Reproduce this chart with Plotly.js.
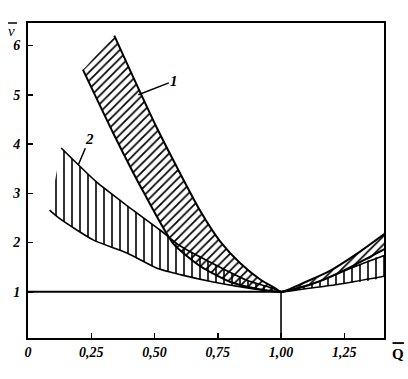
<!DOCTYPE html>
<html><head><meta charset="utf-8">
<script src="https://cdn.plot.ly/plotly-3.0.1.min.js"></script>
<style>html,body{margin:0;padding:0;background:#fff}</style>
</head><body><div id="chart" style="width:408px;height:379px"></div>
<script>
// ticks
const xTickVals = [0, 0.25, 0.5, 0.75, 1.0, 1.25];
const xTickText = ['0', '0,25', '0,50', '0,75', '1,00', '1,25'];
const yTickVals = [1, 2, 3, 4, 5, 6];
const yTickText = ['1', '2', '3', '4', '5', '6'];

// band 1 (diagonal hatching)
const band1LeftUpperX = [0.341, 0.511, 0.681, 0.760, 0.839, 0.918, 0.978, 1.0];
const band1LeftUpperY = [6.20, 4.31, 2.64, 2.02, 1.58, 1.25, 1.07, 1.0];
const band1LeftLowerX = [0.217, 0.337, 0.455, 0.574, 0.681, 0.800, 0.918, 1.0];
const band1LeftLowerY = [5.51, 4.22, 3.04, 1.98, 1.52, 1.20, 1.05, 1.0];
const band1RightUpperX = [1.0, 1.097, 1.195, 1.302, 1.41];
const band1RightUpperY = [1.0, 1.20, 1.43, 1.78, 2.18];
const band1RightLowerX = [1.0, 1.117, 1.235, 1.41];
const band1RightLowerY = [1.0, 1.15, 1.40, 1.87];

// band 2 (vertical hatching)
const band2LeftUpperX = [0.131, 0.273, 0.391, 0.523, 0.602, 0.732, 0.867, 0.969, 1.0];
const band2LeftUpperY = [3.92, 3.22, 2.75, 2.25, 1.93, 1.57, 1.23, 1.07, 1.0];
const band2LeftLowerX = [0.085, 0.127, 0.259, 0.391, 0.510, 0.602, 0.732, 0.867, 1.0];
const band2LeftLowerY = [2.66, 2.48, 2.05, 1.79, 1.48, 1.35, 1.20, 1.08, 1.0];
const band2RightUpperX = [1.0, 1.156, 1.275, 1.41];
const band2RightUpperY = [1.0, 1.22, 1.48, 1.74];
const band2RightLowerX = [1.0, 1.077, 1.223, 1.41];
const band2RightLowerY = [1.0, 1.05, 1.15, 1.32];

// reference lines
const refHX = [0, 1.0];
const refHY = [1, 1];

const xRange = [0, 1.407];
const yRange = [0.063, 6.457];

function join(a, b) { return a.concat(b.slice(1)); }
function polygon(lux, luy, llx, lly, rux, ruy, rlx, rly) {
  const lowX = join(llx, rlx), lowY = join(lly, rly);
  const upX = join(lux, rux), upY = join(luy, ruy);
  return {
    x: lowX.concat(upX.slice().reverse()),
    y: lowY.concat(upY.slice().reverse())
  };
}

const p1 = polygon(band1LeftUpperX, band1LeftUpperY, band1LeftLowerX, band1LeftLowerY,
                   band1RightUpperX, band1RightUpperY, band1RightLowerX, band1RightLowerY);
const p2 = polygon(band2LeftUpperX, band2LeftUpperY, band2LeftLowerX, band2LeftLowerY,
                   band2RightUpperX, band2RightUpperY, band2RightLowerX, band2RightLowerY);

const lineStyle = (w) => ({color: 'black', width: w, shape: 'spline', smoothing: 0.6});

const traces = [
  {x: p2.x, y: p2.y, mode: 'lines', fill: 'toself', fillcolor: 'rgba(255,255,255,0)',
   line: {width: 0, shape: 'spline', smoothing: 0.6},
   fillpattern: {shape: '|', size: 8, solidity: 0.2, fgcolor: 'black', bgcolor: 'rgba(255,255,255,0)'},
   hoverinfo: 'skip'},
  {x: p1.x, y: p1.y, mode: 'lines', fill: 'toself', fillcolor: 'rgba(255,255,255,0)',
   line: {width: 0, shape: 'spline', smoothing: 0.6},
   fillpattern: {shape: '/', size: 6, solidity: 0.28, fgcolor: 'black', bgcolor: 'rgba(255,255,255,0)'},
   hoverinfo: 'skip'},
  {x: join(band2LeftUpperX, band2RightUpperX), y: join(band2LeftUpperY, band2RightUpperY), mode: 'lines', line: lineStyle(1.6)},
  {x: join(band2LeftLowerX, band2RightLowerX), y: join(band2LeftLowerY, band2RightLowerY), mode: 'lines', line: lineStyle(1.6)},
  {x: join(band1LeftUpperX, band1RightUpperX), y: join(band1LeftUpperY, band1RightUpperY), mode: 'lines', line: lineStyle(2)},
  {x: join(band1LeftLowerX, band1RightLowerX), y: join(band1LeftLowerY, band1RightLowerY), mode: 'lines', line: lineStyle(2)},
  {x: refHX, y: refHY, mode: 'lines', line: {color: 'black', width: 2}},
  {x: [1.0, 1.0], y: [yRange[0], 1], mode: 'lines', line: {color: 'black', width: 1.6}}
];

const tickFont = {family: 'Liberation Serif', size: 14, color: 'black', weight: 'bold', style: 'italic'};
const labFont = {family: 'Liberation Serif', size: 15, color: 'black', weight: 'bold', style: 'italic'};

const layout = {
  width: 408, height: 379,
  margin: {l: 28, r: 24, t: 23, b: 41, pad: 0},
  paper_bgcolor: 'white', plot_bgcolor: 'white',
  showlegend: false,
  xaxis: {range: xRange, tickvals: xTickVals, ticktext: xTickText, ticks: 'inside', ticklen: 5,
          tickwidth: 1.5, tickcolor: 'black', showline: true, linecolor: 'black', linewidth: 2,
          mirror: true, showgrid: false, zeroline: false, tickfont: tickFont, fixedrange: true},
  yaxis: {range: yRange, tickvals: yTickVals, ticktext: yTickText, ticks: 'inside', ticklen: 5,
          tickwidth: 1.5, tickcolor: 'black', showline: true, linecolor: 'black', linewidth: 2,
          mirror: true, showgrid: false, zeroline: false, tickfont: tickFont, fixedrange: true,
          ticklabelstandoff: 3},
  shapes: [
    // macron bars over the axis letters
    {type: 'line', xref: 'paper', yref: 'paper', x0: -0.056, x1: -0.031, y0: 1.0, y1: 1.0,
     line: {color: 'black', width: 1.5}},
    {type: 'line', xref: 'paper', yref: 'paper', x0: 1.024, x1: 1.056, y0: -0.016, y1: -0.016,
     line: {color: 'black', width: 1.8}}
  ],
  annotations: [
    {text: 'v', xref: 'paper', yref: 'paper', x: -0.045, y: 0.975, xanchor: 'center', yanchor: 'middle',
     showarrow: false, font: {family: 'Liberation Serif', size: 15, color: 'black', style: 'italic'}},
    {text: 'Q', xref: 'paper', yref: 'paper', x: 1.039, y: -0.05, xanchor: 'center', yanchor: 'middle',
     showarrow: false, font: {family: 'Liberation Serif', size: 15, color: 'black', weight: 'bold'}},
    {text: '1', x: 0.436, y: 5.0, xref: 'x', yref: 'y', showarrow: true, arrowhead: 0,
     arrowwidth: 1.5, arrowcolor: 'black', ax: 36, ay: -14, font: labFont},
    {text: '2', x: 0.199, y: 3.58, xref: 'x', yref: 'y', showarrow: true, arrowhead: 0,
     arrowwidth: 1.5, arrowcolor: 'black', ax: 11, ay: -26, font: labFont}
  ]
};

Plotly.newPlot('chart', traces, layout, {displayModeBar: false, staticPlot: true});
</script>
</body></html>
